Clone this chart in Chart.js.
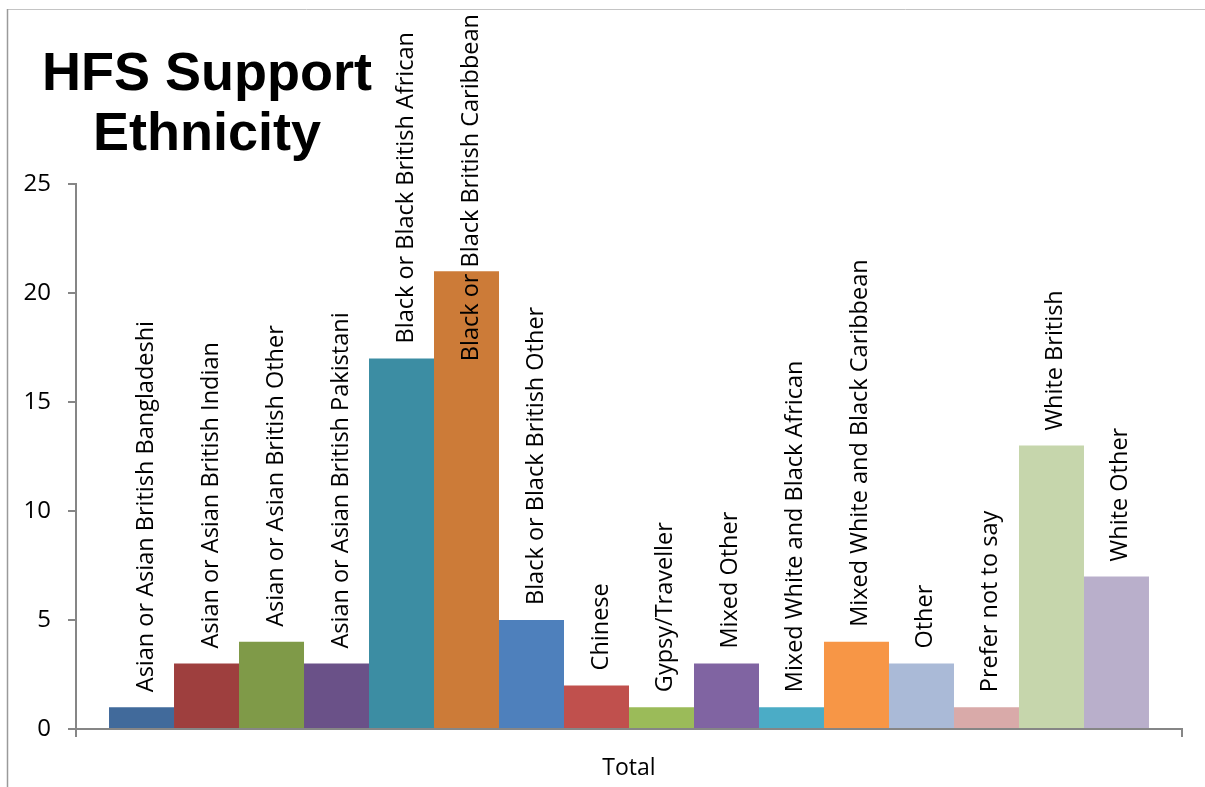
<!DOCTYPE html>
<html>
<head>
<meta charset="utf-8">
<title>HFS Support Ethnicity</title>
<script src="https://cdn.jsdelivr.net/npm/chart.js@4/dist/chart.umd.min.js"></script>
<style>
  html, body { margin: 0; padding: 0; background: #ffffff; }
  #wrap { width: 1205px; height: 787px; position: relative; }
</style>
</head>
<body>
<div id="wrap"><canvas id="chart" width="1205" height="787"></canvas></div>
<script>
// Single category with one bar per ethnic group
const categories = ['Total'];

const ethnicities = [
  'Asian or Asian British Bangladeshi',
  'Asian or Asian British Indian',
  'Asian or Asian British Other',
  'Asian or Asian British Pakistani',
  'Black or Black British African',
  'Black or Black British Caribbean',
  'Black or Black British Other',
  'Chinese',
  'Gypsy/Traveller',
  'Mixed Other',
  'Mixed White and Black African',
  'Mixed White and Black Caribbean',
  'Other',
  'Prefer not to say',
  'White British',
  'White Other'
];

const counts = [1, 3, 4, 3, 17, 21, 5, 2, 1, 3, 1, 4, 3, 1, 13, 7];

const barColors = [
  '#416A9B', '#9E3F3E', '#7F9A48', '#6A5188',
  '#3C8DA3', '#CC7B38', '#4E80BC', '#C0504D',
  '#9BBB59', '#8064A2', '#4BACC6', '#F79646',
  '#AABAD7', '#D9AAA9', '#C6D6AC', '#B9AFCB'
];

const yTicks = [0, 5, 10, 15, 20, 25];
const titleLines = ['HFS Support', 'Ethnicity'];

const AXIS_GREY = '#868686';
const LABEL_FONT = '23.5px "Open Sans"';

// Frame lines and the block title in the upper-left corner
const framePlugin = {
  id: 'frame',
  beforeDraw(chart) {
    const ctx = chart.ctx;
    ctx.save();
    ctx.fillStyle = '#ffffff';
    ctx.fillRect(0, 0, chart.width, chart.height);
    ctx.strokeStyle = '#C4C4C4';
    ctx.lineWidth = 1;
    ctx.beginPath();
    ctx.moveTo(7, 9.5);
    ctx.lineTo(chart.width, 9.5);
    ctx.stroke();
    ctx.strokeStyle = '#9A9A9A';
    ctx.lineWidth = 1.5;
    ctx.beginPath();
    ctx.moveTo(7.5, 9);
    ctx.lineTo(7.5, chart.height);
    ctx.stroke();
    ctx.restore();
  },
  afterDraw(chart) {
    const ctx = chart.ctx;
    ctx.save();
    ctx.fillStyle = '#000000';
    ctx.font = 'bold 54px "Liberation Sans", Arial, sans-serif';
    ctx.textAlign = 'center';
    ctx.textBaseline = 'alphabetic';
    ctx.fillText(titleLines[0], 207, 90);
    ctx.fillText(titleLines[1], 207, 150);
    ctx.restore();
  }
};

// Vertical series-name labels above each bar, pushed down when they would run off the top
const barLabelPlugin = {
  id: 'barLabels',
  afterDatasetsDraw(chart) {
    const ctx = chart.ctx;
    ctx.save();
    ctx.font = LABEL_FONT;
    ctx.fillStyle = '#000000';
    ctx.textAlign = 'left';
    ctx.textBaseline = 'alphabetic';
    chart.data.datasets.forEach((ds, i) => {
      const meta = chart.getDatasetMeta(i);
      const bar = meta.data[0];
      if (!bar) return;
      const text = ds.label;
      const w = ctx.measureText(text).width;
      let start = bar.y - 15;
      if (start - w < 14) start = 14 + w;
      ctx.save();
      ctx.translate(bar.x + 11, start);
      ctx.rotate(-Math.PI / 2);
      ctx.fillText(text, 0, 0);
      ctx.restore();
    });
    ctx.restore();
  }
};

const datasets = ethnicities.map((name, i) => ({
  label: name,
  data: [counts[i]],
  backgroundColor: barColors[i],
  borderWidth: 0,
  barPercentage: 1.0,
  categoryPercentage: 0.9403
}));

new Chart(document.getElementById('chart'), {
  type: 'bar',
  data: { labels: categories, datasets },
  options: {
    responsive: false,
    animation: false,
    layout: { padding: { top: 184, right: 23, left: 0, bottom: 0 } },
    plugins: {
      legend: { display: false },
      tooltip: { enabled: false },
      title: { display: false }
    },
    scales: {
      x: {
        afterFit(scale) { scale.height = 58; },
        grid: {
          offset: true,
          drawOnChartArea: false,
          drawTicks: true,
          tickLength: 8,
          color: AXIS_GREY,
          lineWidth: 2
        },
        border: { display: true, color: AXIS_GREY, width: 2 },
        ticks: {
          color: '#000000',
          font: { family: 'Open Sans', size: 23 },
          padding: 18
        }
      },
      y: {
        min: 0,
        max: 25,
        afterFit(scale) { scale.width = 76; },
        afterBuildTicks(scale) { scale.ticks = yTicks.map(v => ({ value: v })); },
        grid: {
          drawOnChartArea: false,
          drawTicks: true,
          tickLength: 8,
          color: AXIS_GREY,
          lineWidth: 2
        },
        border: { display: true, color: AXIS_GREY, width: 2 },
        ticks: {
          color: '#000000',
          font: { family: 'Open Sans', size: 24 },
          padding: 17
        }
      }
    }
  },
  plugins: [framePlugin, barLabelPlugin]
});
</script>
</body>
</html>
